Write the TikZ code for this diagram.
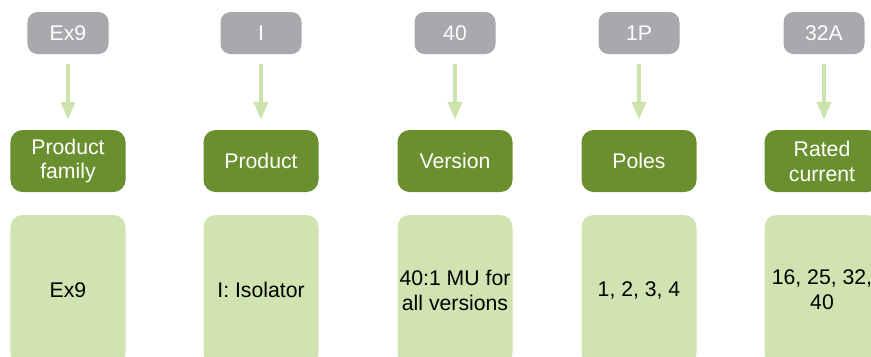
\documentclass[tikz,border=0pt]{standalone}
\usepackage{fontspec}
\setmainfont{Liberation Sans}
\usetikzlibrary{arrows.meta}

\definecolor{codegray}{HTML}{A7A9AC}
\definecolor{fieldgreen}{HTML}{6A8F2E}
\definecolor{infogreen}{HTML}{CFE4B0}
\definecolor{pointergreen}{HTML}{CDE3AE}

\tikzset{
  codebox/.style={fill=codegray, text=white, rounded corners=10bp, minimum width=81bp, minimum height=42bp, inner sep=0pt, align=center, font=\fontsize{21.3}{25}\selectfont},
  fieldbox/.style={fill=fieldgreen, text=white, rounded corners=12bp, minimum width=115bp, minimum height=62bp, inner sep=0pt, align=center, font=\fontsize{21.3}{25}\selectfont},
  infobox/.style={fill=infogreen, text=black, rounded corners=12bp, minimum width=115bp, minimum height=150bp, inner sep=0pt, align=center, font=\fontsize{21.3}{25}\selectfont},
  pointer/.style={draw=pointergreen, line width=4bp, -{Triangle[length=18bp, width=14bp]}, shorten <=10bp, shorten >=10bp}
}

\begin{document}
\begin{tikzpicture}[x=1bp, y=-1bp]
            \useasboundingbox (0,0) rectangle (871,356);
            \clip (0,0) rectangle (871,356);

            \node[codebox] (codefamily) at (68,33) {Ex9};
            \node[codebox] (codeproduct) at (261,33) {I};
            \node[codebox] (codeversion) at (455,33) {40};
            \node[codebox] (codepoles) at (639,33) {1P};
            \node[codebox] (codecurrent) at (824,33) {32A};

            \node[fieldbox] (family) at (68,161) {Product\\family};
            \node[fieldbox] (product) at (261,161) {Product};
            \node[fieldbox] (version) at (455,161) {Version};
            \node[fieldbox] (poles) at (639,161) {Poles};
            \node[fieldbox] (current) at (822,161) {Rated\\current};

            \node[infobox] (infofamily) at (68,290) {Ex9};
            \node[infobox] (infoproduct) at (261,290) {I: Isolator};
            \node[infobox] (infoversion) at (455,290) {40:1 MU for\\all versions};
            \node[infobox] (infopoles) at (639,290) {1, 2, 3, 4};
            \node[infobox] (infocurrent) at (822,290) {16, 25, 32,\\40};

            \draw[pointer] (codefamily) -- (family);
            \draw[pointer] (codeproduct) -- (product);
            \draw[pointer] (codeversion) -- (version);
            \draw[pointer] (codepoles) -- (poles);
            \draw[pointer] (codecurrent) -- (codecurrent |- current.north);
        \end{tikzpicture}
\end{document}
